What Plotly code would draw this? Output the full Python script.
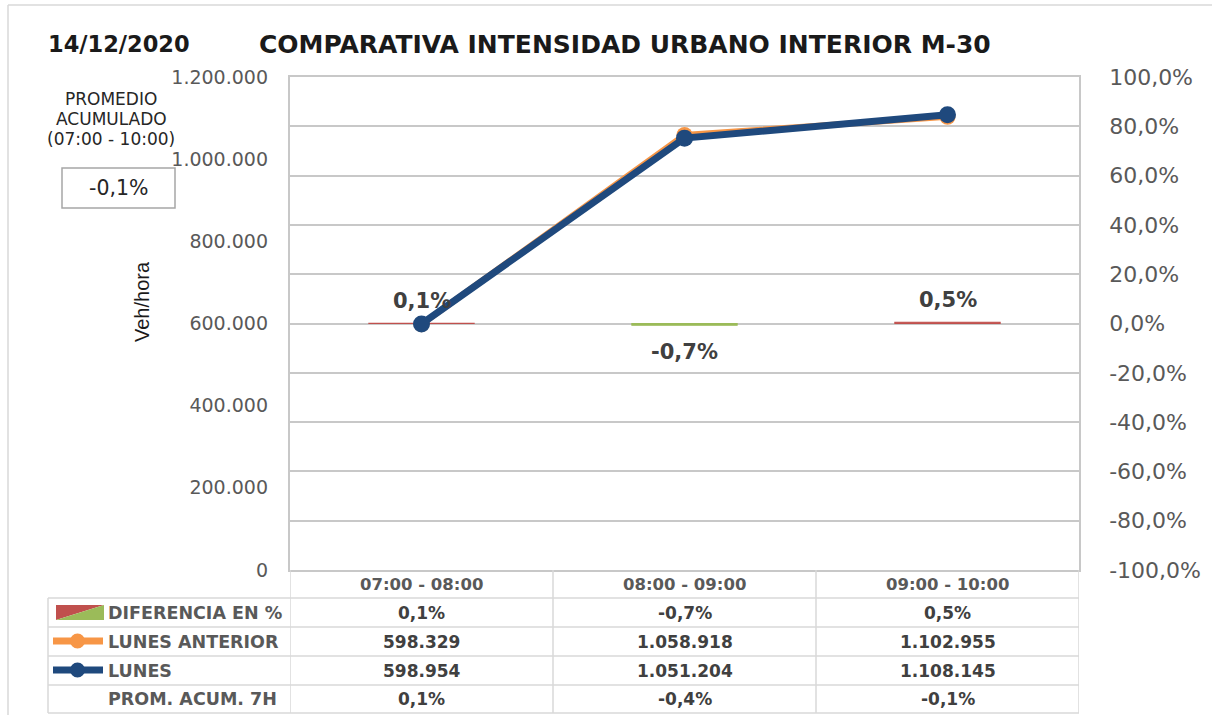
import plotly.graph_objects as go

W, H = 1212, 715

# ---------------- data ----------------
categories = ["07:00 - 08:00", "08:00 - 09:00", "09:00 - 10:00"]
lunes_anterior = [598329, 1058918, 1102955]
lunes = [598954, 1051204, 1108145]
diferencia_pct = [0.1, -0.7, 0.5]
prom_acum_7h = [0.1, -0.4, -0.1]
promedio_acumulado = -0.1

left_tickvals = [0, 200000, 400000, 600000, 800000, 1000000, 1200000]
left_ticktext = ["0", "200.000", "400.000", "600.000", "800.000", "1.000.000", "1.200.000"]
right_tickvals = [-1.0, -0.8, -0.6, -0.4, -0.2, 0.0, 0.2, 0.4, 0.6, 0.8, 1.0]
right_ticktext = ["-100,0%", "-80,0%", "-60,0%", "-40,0%", "-20,0%", "0,0%",
                  "20,0%", "40,0%", "60,0%", "80,0%", "100,0%"]

title_date = "14/12/2020"
title_text = "COMPARATIVA INTENSIDAD URBANO INTERIOR M-30"
row_labels = ["DIFERENCIA EN %", "LUNES ANTERIOR", "LUNES", "PROM. ACUM. 7H"]


def fmt_int(v):
    return f"{v:,}".replace(",", ".")


def fmt_pct(v):
    return f"{v:.1f}%".replace(".", ",")


# ---------------- helpers (pixel -> paper) ----------------
def px(x):
    return x / W


def py(y):
    return 1 - y / H


ORANGE = "#F79646"
BLUE = "#1F497D"
RED = "#C0504D"
GREEN = "#9BBB59"
GRID = "#C8C8C8"
TBL = "#D9D9D9"
TXT = "#595959"
VAL = "#404040"
FONT = "DejaVu Sans"

PLOT_L, PLOT_R, PLOT_T, PLOT_B = 290, 1079, 77, 570

fig = go.Figure()

bar_colors = [RED if v >= 0 else GREEN for v in diferencia_pct]
fig.add_trace(go.Bar(
    x=categories, y=[v / 100 for v in diferencia_pct], yaxis="y", xaxis="x",
    width=0.4, marker=dict(color=bar_colors, line=dict(color=bar_colors, width=1.2)),
    name="DIFERENCIA EN %", showlegend=False, hoverinfo="skip",
))
fig.add_trace(go.Scatter(
    x=categories, y=lunes_anterior, yaxis="y2", mode="lines+markers",
    line=dict(color=ORANGE, width=6), marker=dict(size=16, color=ORANGE),
    name="LUNES ANTERIOR", showlegend=False,
))
fig.add_trace(go.Scatter(
    x=categories, y=lunes, yaxis="y2", mode="lines+markers",
    line=dict(color=BLUE, width=7), marker=dict(size=17, color=BLUE),
    name="LUNES", showlegend=False,
))

annotations = []
shapes = []

# bar data labels
for c, v in zip(categories, diferencia_pct):
    annotations.append(dict(
        x=c, y=v / 100, xref="x", yref="y", text=f"<b>{fmt_pct(v)}</b>",
        showarrow=False, yshift=22 if v >= 0 else -27, yanchor="middle",
        font=dict(family=FONT, size=21, color=VAL),
    ))

# titles
annotations.append(dict(x=px(46), y=py(44), xref="paper", yref="paper", xanchor="left",
                        yanchor="middle", text=f"<b>{title_date}</b>", showarrow=False,
                        font=dict(family=FONT, size=22.5, color="#1A1A1A")))
annotations.append(dict(x=px(625), y=py(44), xref="paper", yref="paper", xanchor="center",
                        yanchor="middle", text=f"<b>{title_text}</b>", showarrow=False,
                        font=dict(family=FONT, size=25, color="#1A1A1A")))

# promedio acumulado box
for t, yy in [("PROMEDIO", 99), ("ACUMULADO", 119), ("(07:00 - 10:00)", 139)]:
    annotations.append(dict(x=px(111), y=py(yy), xref="paper", yref="paper",
                            xanchor="center", yanchor="middle", text=t, showarrow=False,
                            font=dict(family=FONT, size=17, color="#262626")))
shapes.append(dict(type="rect", xref="paper", yref="paper", x0=px(62), x1=px(175),
                   y0=py(208), y1=py(168), line=dict(color="#A6A6A6", width=1.5)))
annotations.append(dict(x=px(118), y=py(188), xref="paper", yref="paper",
                        xanchor="center", yanchor="middle", text=fmt_pct(promedio_acumulado),
                        showarrow=False, font=dict(family=FONT, size=20.5, color="#262626")))

# y-axis title
annotations.append(dict(x=px(142), y=py(302), xref="paper", yref="paper", textangle=-90,
                        xanchor="center", yanchor="middle", text="Veh/hora", showarrow=False,
                        font=dict(family="Liberation Sans", size=20, color="#1A1A1A")))

# outer chart border (left/top)
shapes.append(dict(type="line", xref="paper", yref="paper", x0=px(8), x1=px(8),
                   y0=py(5), y1=0, line=dict(color=TBL, width=1.5)))
shapes.append(dict(type="line", xref="paper", yref="paper", x0=px(8), x1=1,
                   y0=py(5), y1=py(5), line=dict(color=TBL, width=1.5)))

# ---------------- data table ----------------
row_lines = [598, 627, 656, 685, 713]
row_centers = [612.5, 641.5, 670.5, 699]
header_center = 584.5

for yy in row_lines:
    shapes.append(dict(type="line", xref="paper", yref="paper", x0=px(48), x1=px(PLOT_R),
                       y0=py(yy), y1=py(yy), line=dict(color=TBL, width=1.5)))
shapes.append(dict(type="line", xref="paper", yref="paper", x0=px(48), x1=px(48),
                   y0=py(598), y1=py(713), line=dict(color=TBL, width=1.5)))
for xb in [-0.5, 0.5, 1.5, 2.5]:
    shapes.append(dict(type="line", xref="x", yref="paper", x0=xb, x1=xb,
                       y0=py(PLOT_B), y1=py(713), line=dict(color=TBL, width=1.5)))

for c in categories:
    annotations.append(dict(x=c, y=py(header_center), xref="x", yref="paper",
                            yanchor="middle", text=f"<b>{c}</b>", showarrow=False,
                            font=dict(family=FONT, size=16.5, color=TXT)))

table_rows = [
    [fmt_pct(v) for v in diferencia_pct],
    [fmt_int(v) for v in lunes_anterior],
    [fmt_int(v) for v in lunes],
    [fmt_pct(v) for v in prom_acum_7h],
]
for label, yc, vals in zip(row_labels, row_centers, table_rows):
    annotations.append(dict(x=px(106), y=py(yc), xref="paper", yref="paper",
                            xanchor="left", yanchor="middle", text=f"<b>{label}</b>",
                            showarrow=False, font=dict(family=FONT, size=17.5, color=TXT)))
    for c, t in zip(categories, vals):
        annotations.append(dict(x=c, y=py(yc), xref="x", yref="paper", yanchor="middle",
                                text=f"<b>{t}</b>", showarrow=False,
                                font=dict(family=FONT, size=17, color=VAL)))

# legend keys inside table
shapes.append(dict(type="path", xref="paper", yref="paper",
                   path=f"M {px(56)},{py(605)} L {px(104)},{py(605)} L {px(56)},{py(620)} Z",
                   fillcolor=RED, line=dict(width=0)))
shapes.append(dict(type="path", xref="paper", yref="paper",
                   path=f"M {px(104)},{py(605)} L {px(104)},{py(620)} L {px(56)},{py(620)} Z",
                   fillcolor=GREEN, line=dict(width=0)))
for color, yc in [(ORANGE, 641), (BLUE, 670)]:
    shapes.append(dict(type="line", xref="paper", yref="paper", x0=px(53), x1=px(103),
                       y0=py(yc), y1=py(yc), line=dict(color=color, width=7)))
    shapes.append(dict(type="circle", xref="paper", yref="paper", x0=px(70), x1=px(85),
                       y0=py(yc + 7.5), y1=py(yc - 7.5), fillcolor=color,
                       line=dict(color=color, width=0)))

fig.update_layout(
    width=W, height=H, margin=dict(l=0, r=0, t=0, b=0, pad=0, autoexpand=False),
    paper_bgcolor="white", plot_bgcolor="white",
    showlegend=False, bargap=0.6,
    xaxis=dict(domain=[px(PLOT_L), px(PLOT_R)], showticklabels=False, ticks="",
               showgrid=False, showline=True, mirror=True, linecolor=GRID, linewidth=1.5,
               range=[-0.5, 2.5], zeroline=False, automargin=False),
    yaxis=dict(domain=[py(PLOT_B), py(PLOT_T)], side="right", range=[-1, 1],
               tickvals=right_tickvals, ticktext=right_ticktext, showgrid=True,
               gridcolor=GRID, gridwidth=1.5, zeroline=False, showline=True, mirror=True,
               linecolor=GRID, linewidth=1.5, ticks="", ticklabelstandoff=24,
               automargin=False, tickfont=dict(family=FONT, size=22, color=TXT)),
    yaxis2=dict(overlaying="y", side="left", range=[0, 1200000], tickvals=left_tickvals,
                ticktext=left_ticktext, showgrid=False, zeroline=False, ticks="",
                ticklabelstandoff=21, automargin=False,
                tickfont=dict(family=FONT, size=19, color=TXT)),
    annotations=annotations, shapes=shapes,
)

fig.write_html(
    "out.html",
    config={"displayModeBar": False},
    post_script="document.body.style.margin='0';document.body.style.overflow='hidden';",
)
